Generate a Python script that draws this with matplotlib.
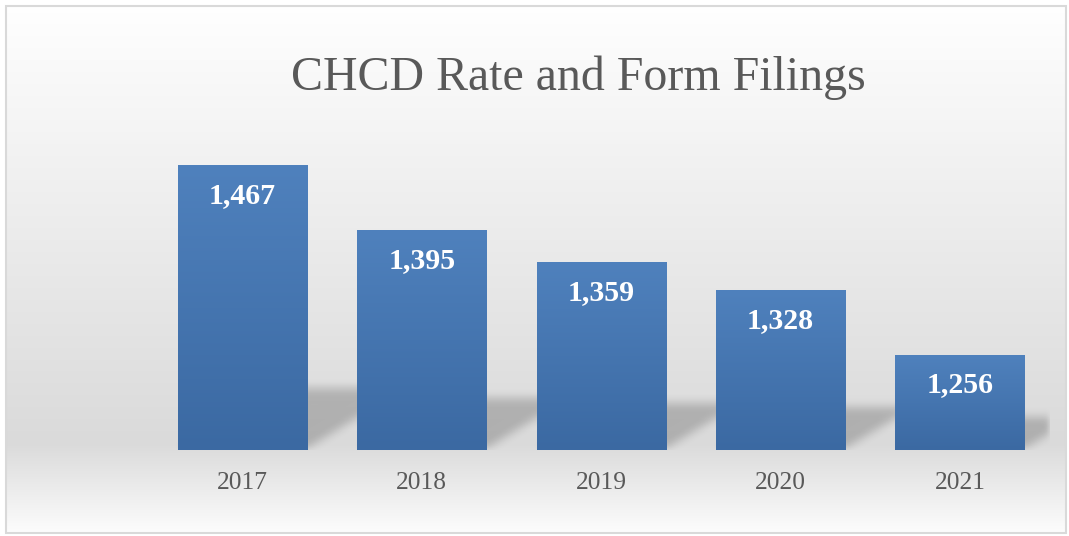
import matplotlib
matplotlib.use("Agg")
import matplotlib.pyplot as plt
import numpy as np
from matplotlib.patches import Rectangle
from matplotlib.path import Path
from matplotlib.colors import LinearSegmentedColormap

# ---- data ----
years = ["2017", "2018", "2019", "2020", "2021"]
filings = [1467, 1395, 1359, 1328, 1256]
title = "CHCD Rate and Form Filings"
y_min, y_max = 1150, 1500

W, H = 1069, 536
fig = plt.figure(figsize=(W / 100, H / 100), dpi=100)
fig.patch.set_facecolor("white")

# ---- background gradient + border ----
bg = fig.add_axes([0, 0, 1, 1], zorder=-10)
bg.set_xlim(0, W)
bg.set_ylim(H, 0)
bg.axis("off")
t = np.linspace(0, 1, 400)
vals = np.interp(t, [0, 0.83, 1.0], [0.998, 0.855, 0.99])
grad = np.dstack([np.repeat(vals[:, None], 2, axis=1)] * 3)
bg.imshow(grad, extent=[6, 1066, 533, 6], aspect="auto", interpolation="bilinear")
bg.add_patch(Rectangle((6, 6), 1060, 527, fill=False, ec="#d9d9d9", lw=1.5))
bg.set_xlim(0, W)
bg.set_ylim(H, 0)

# ---- main axes ----
ax_l, ax_r, ax_top, ax_bot = 152.8, 1049.7, 136.4, 450.0
ax = fig.add_axes([ax_l / W, 1 - ax_bot / H, (ax_r - ax_l) / W, (ax_bot - ax_top) / H])
ax.patch.set_alpha(0)
for s in ax.spines.values():
    s.set_visible(False)
x = np.arange(len(years))
bw = 0.72
ax.set_xlim(-0.5, len(years) - 0.5)
ax.set_ylim(y_min, y_max)

# ---- shadows (rasterised, blurred) ----
pw, ph = int(round(ax_r - ax_l)), int(round(ax_bot - ax_top))
sx = pw / (len(years))          # px per category
sy = ph / (y_max - y_min)       # px per unit
gx, gy = np.meshgrid(np.arange(pw) + 0.5, np.arange(ph) + 0.5)
pts = np.column_stack([gx.ravel(), gy.ravel()])
mask = np.zeros(pw * ph)
for xi, v in zip(x, filings):
    L = (xi + 0.5 - bw / 2) * sx
    R = (xi + 0.5 + bw / 2) * sx
    hpx = (v - y_min) * sy
    dy = 0.15 * hpx + 19
    dx = 1.6 * dy
    poly = Path([(L, 2), (R, 2), (R + dx, dy), (L + dx, dy), (L, 2)])
    mask = np.maximum(mask, poly.contains_points(pts).astype(float))
mask = mask.reshape(ph, pw)

def box_blur(a, r, axis):
    pad = [(0, 0), (0, 0)]
    pad[axis] = (r + 1, r)
    p = np.pad(a, pad, mode="constant")
    c = np.cumsum(p, axis=axis)
    if axis == 0:
        return (c[2 * r + 1:, :] - c[:-2 * r - 1, :]) / (2 * r + 1)
    return (c[:, 2 * r + 1:] - c[:, :-2 * r - 1]) / (2 * r + 1)

for _ in range(3):
    mask = box_blur(mask, 4, 0)
    mask = box_blur(mask, 3, 1)
shadow = np.zeros((ph, pw, 4))
shadow[..., 3] = mask * 0.2
ax.imshow(shadow, extent=[-0.5, len(years) - 0.5, y_min, y_min + ph / sy],
          origin="lower", aspect="auto", zorder=1, interpolation="bilinear")

# ---- bars with vertical gradient ----
cmap = LinearSegmentedColormap.from_list("bar", ["#3b69a2", "#4f81bd"])
bars = ax.bar(x, np.array(filings) - y_min, bottom=y_min, width=bw,
              color="none", edgecolor="none", zorder=2)
gimg = np.linspace(0, 1, 256)[:, None]
for b in bars:
    x0, y0 = b.get_x(), b.get_y()
    ax.imshow(gimg, cmap=cmap, extent=[x0, x0 + b.get_width(), y0, y0 + b.get_height()],
              origin="lower", aspect="auto", zorder=3)
ax.set_xlim(-0.5, len(years) - 0.5)
ax.set_ylim(y_min, y_max)

# ---- data labels ----
for xi, v in zip(x, filings):
    ax.annotate(f"{v:,}", (xi, v), xytext=(0, -21.5), textcoords="offset points",
                ha="center", va="center", color="white", fontsize=21.5,
                fontweight="bold", family="Liberation Serif", zorder=5)

# ---- ticks ----
ax.set_xticks(x)
ax.set_xticklabels(years, family="Liberation Serif", fontsize=18.4, color="#595959")
ax.tick_params(axis="x", length=0, pad=16)
ax.set_yticks([])

# ---- title ----
fig.text(578 / W, 1 - 78 / H, title, ha="center", va="center",
         family="Liberation Serif", fontsize=34.5, color="#595959")

fig.savefig("out.png", dpi=100)
